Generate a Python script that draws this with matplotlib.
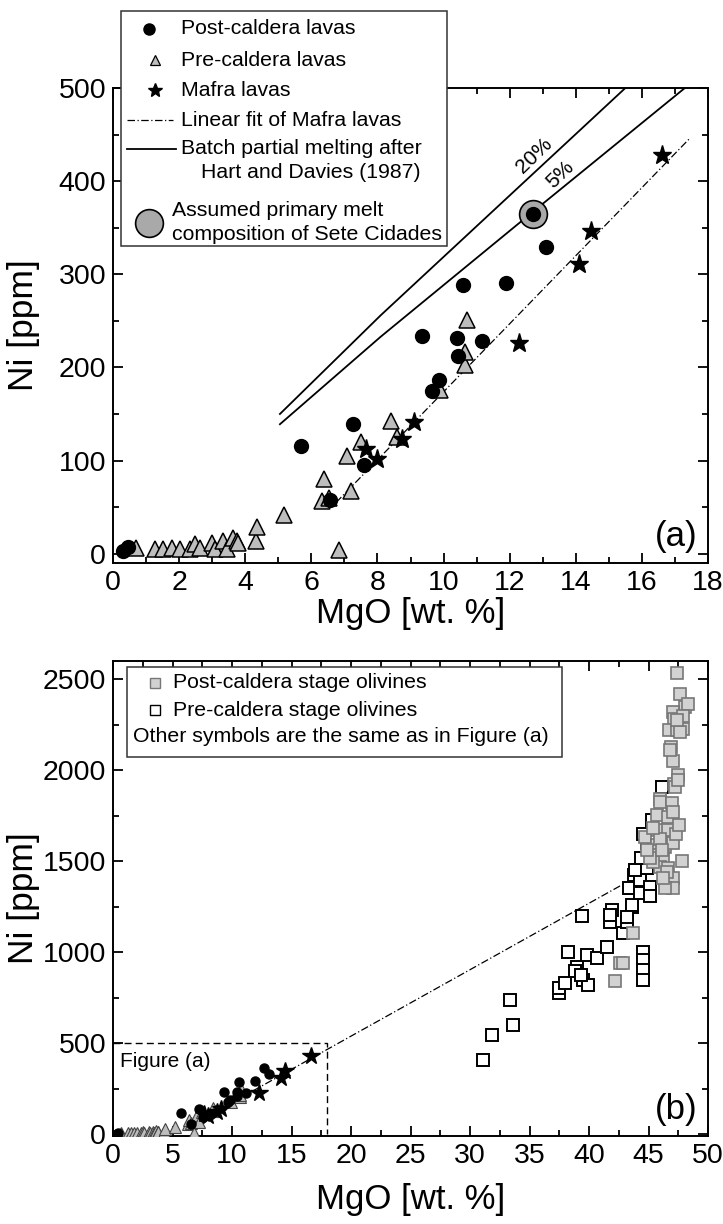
import matplotlib
matplotlib.use("Agg")
import matplotlib.pyplot as plt
from matplotlib.patches import Rectangle
from matplotlib.ticker import MultipleLocator

plt.rcParams['font.family'] = ['Liberation Sans', 'DejaVu Sans']

# whole-rock lavas (MgO wt.%, Ni ppm)
post_mgo = [0.3, 0.45, 5.7, 6.55, 7.25, 7.6, 9.35, 9.65, 9.85, 10.4, 10.45, 10.6, 11.15, 11.9, 12.7, 13.1]
post_ni = [3, 7, 116, 58, 139, 95, 234, 175, 186, 232, 212, 289, 228, 291, 365, 329]

pre_mgo = [0.7, 1.27, 1.52, 1.78, 2.03, 2.33, 2.48, 2.63, 2.99, 3.09, 3.34, 3.44, 3.64, 3.74, 3.79,
           4.32, 4.35, 5.18, 6.31, 6.39, 6.54, 6.84, 7.07, 7.2, 7.49, 8.4, 8.58, 9.89, 10.65, 10.65, 10.72]
pre_ni = [6, 5, 5, 6, 5, 5, 10, 6, 11, 5, 14, 5, 17, 14, 11,
          14, 29, 42, 57, 80, 60, 4, 105, 67, 120, 143, 125, 176, 203, 217, 251]

mafra_mgo = [7.65, 8.0, 8.73, 9.1, 12.28, 14.1, 14.46, 16.62]
mafra_ni = [112, 102, 123, 141, 226, 311, 346, 428]

# linear fit of Mafra lavas (end points)
fit_mgo_a = [6.75, 17.45]
fit_ni_a = [55, 446]
fit_mgo_b = [6.75, 45.1]
fit_ni_b = [55, 1455]

# batch partial melting curves
melt20_mgo = [5.05, 8.1, 15.5]
melt20_ni = [150, 256, 500]
melt5_mgo = [5.05, 8.1, 12.7, 17.3]
melt5_ni = [139, 233, 367, 500]

primary_mgo = [12.7]
primary_ni = [365]

# olivines
ol_post_mgo = [47.42, 47.65, 48.07, 48.35, 47.03, 47.14, 47.92, 46.72, 47.42, 47.92, 46.86, 47.03,
               47.5, 47.14, 45.97, 47.23, 45.97, 46.95, 45.69, 46.67, 47.08, 45.69, 46.67, 44.71,
               45.69, 46.39, 47.08, 45.27, 46.24, 45.97, 46.67, 46.39, 47.08, 47.08, 46.39, 45.4,
               43.67, 42.6, 42.85, 42.18, 46.53, 46.25, 45.13, 47.51, 46.81, 47.65, 47.37, 47.8,
               47.3, 47.6, 46.0, 45.4, 44.9, 46.1]
ol_post_ni = [2535, 2418, 2348, 2366, 2320, 2283, 2296, 2220, 2220, 2225, 2127, 2048,
              1972, 1926, 1844, 1909, 1827, 1818, 1754, 1745, 1772, 1671, 1671, 1634,
              1589, 1580, 1598, 1534, 1525, 1470, 1461, 1397, 1406, 1351, 1351, 1497,
              1104, 940, 940, 839, 1443, 1406, 1516, 1946, 2110, 2210, 2275, 1500,
              1650, 1700, 1620, 1680, 1560, 1560]

ol_pre_mgo = [31.07, 31.82, 33.64, 33.36, 37.5, 37.5, 37.98, 39.52, 39.94, 38.97, 38.26, 39.8,
              40.64, 41.48, 42.88, 41.76, 43.17, 41.91, 43.59, 43.59, 43.78, 39.38, 44.57, 44.57,
              44.57, 44.57, 41.76, 43.65, 43.39, 44.29, 44.29, 43.87, 44.85, 45.13, 45.13, 45.13,
              44.57, 45.27, 46.1, 43.17, 38.82, 39.3, 44.9, 45.5, 44.4]
ol_pre_ni = [405, 546, 601, 738, 775, 805, 830, 848, 821, 921, 1003, 985,
             967, 1031, 1104, 1168, 1168, 1232, 1250, 1351, 1424, 1199, 1003, 958,
             903, 848, 1204, 1260, 1351, 1397, 1324, 1452, 1461, 1360, 1306, 1561,
             1652, 1726, 1909, 1195, 897, 876, 1600, 1620, 1520]

TRI = '#bdbdbd'
SQ = '#d2d2d2'
BIG = '#a9a9a9'

fig = plt.figure(figsize=(7.23, 12.24), dpi=100)


def style_axes(ax, xmaj, xmin, ymaj, ymin, xlab_y):
    ax.xaxis.set_major_locator(MultipleLocator(xmaj))
    ax.xaxis.set_minor_locator(MultipleLocator(xmin))
    ax.yaxis.set_major_locator(MultipleLocator(ymaj))
    ax.yaxis.set_minor_locator(MultipleLocator(ymin))
    ax.tick_params(which='both', direction='in', top=True, right=True, width=1.3)
    ax.tick_params(which='major', length=7, labelsize=20.5, pad=5)
    ax.tick_params(which='minor', length=4)
    for s in ax.spines.values():
        s.set_linewidth(1.4)
    ax.set_xlabel('MgO [wt. %]', fontsize=25)
    ax.set_ylabel('Ni [ppm]', fontsize=25.5)
    ax.xaxis.set_label_coords(0.5, xlab_y)
    ax.yaxis.set_label_coords(-0.122, 0.5)


# ---- (a) lavas ----
ax = fig.add_axes([113 / 723, 1 - 563 / 1224, 595 / 723, 475 / 1224])
ax.plot(melt20_mgo, melt20_ni, color='k', lw=1.3, zorder=2)
ax.plot(melt5_mgo, melt5_ni, color='k', lw=1.3, zorder=2)
ax.plot(fit_mgo_a, fit_ni_a, color='k', lw=0.9, ls=(0, (6, 2, 1, 2)), zorder=2)
ax.plot(primary_mgo, primary_ni, 'o', ms=20, mfc=BIG, mec='k', mew=1.2, zorder=3)
ax.plot(pre_mgo, pre_ni, '^', ms=12, mfc=TRI, mec='k', mew=1.1, ls='none', zorder=4)
ax.plot(post_mgo, post_ni, 'o', ms=10, mfc='k', mec='k', ls='none', zorder=5)
ax.plot(mafra_mgo, mafra_ni, '*', ms=14, mfc='k', mec='k', ls='none', zorder=6)
ax.text(12.73, 427, '20%', rotation=44, fontsize=15, ha='center', va='center')
ax.text(13.52, 407, '5%', rotation=44, fontsize=15, ha='center', va='center')
ax.text(0.947, 0.055, '(a)', transform=ax.transAxes, fontsize=25, ha='center', va='center')
ax.set_xlim(0, 18)
ax.set_ylim(-10, 500)
style_axes(ax, 2, 1, 100, 50, -0.072)

# ---- (b) olivines + lavas ----
bx = fig.add_axes([113 / 723, 1 - 1136 / 1224, 595 / 723, 475 / 1224])
bx.plot(fit_mgo_b, fit_ni_b, color='k', lw=0.9, ls=(0, (6, 2, 1, 2)), zorder=2)
bx.plot([0, 18, 18], [500, 500, 0], color='k', lw=1.0, ls=(0, (5, 3)), zorder=2)
bx.plot(ol_pre_mgo, ol_pre_ni, 's', ms=9, mfc='white', mec='k', mew=1.4, ls='none', zorder=3)
bx.plot(ol_post_mgo, ol_post_ni, 's', ms=9, mfc=SQ, mec='#777777', mew=1.2, ls='none', zorder=4)
bx.plot(pre_mgo, pre_ni, '^', ms=8, mfc=TRI, mec='#444444', mew=0.8, ls='none', zorder=5)
bx.plot(post_mgo, post_ni, 'o', ms=6.5, mfc='k', mec='k', ls='none', zorder=6)
bx.plot(mafra_mgo, mafra_ni, '*', ms=13, mfc='k', mec='k', ls='none', zorder=7)
bx.text(0.6, 400, 'Figure (a)', fontsize=15, ha='left', va='center')
bx.text(0.947, 0.055, '(b)', transform=bx.transAxes, fontsize=25, ha='center', va='center')
bx.set_xlim(0, 50)
bx.set_ylim(-10, 2600)
style_axes(bx, 5, 2.5, 500, 250, -0.1)

# ---- legends, laid out in figure pixels ----
ov = fig.add_axes([0, 0, 1, 1], zorder=10)
ov.set_xlim(0, 723)
ov.set_ylim(1224, 0)
ov.axis('off')
ov.patch.set_alpha(0)

LF = 15.3
ov.add_patch(Rectangle((121, 11), 326, 235, fc='white', ec='#333333', lw=1.1))
ov.plot([149], [29], 'o', ms=8, color='k')
ov.text(181, 29, 'Post-caldera lavas', fontsize=LF, va='center')
ov.plot([155], [60], '^', ms=7, mfc=TRI, mec='k', mew=0.9)
ov.text(181, 60, 'Pre-caldera lavas', fontsize=LF, va='center')
ov.plot([155], [90], '*', ms=10, color='k')
ov.text(181, 90, 'Mafra lavas', fontsize=LF, va='center')
ov.plot([127, 173], [120, 120], color='k', lw=0.9, ls=(0, (6, 2, 1, 2)))
ov.text(181, 120, 'Linear fit of Mafra lavas', fontsize=LF, va='center')
ov.plot([127, 176], [149, 149], color='k', lw=1.3)
ov.text(181, 149, 'Batch partial melting after', fontsize=LF, va='center')
ov.text(201, 173, 'Hart and Davies (1987)', fontsize=LF, va='center')
ov.plot([149], [223], 'o', ms=20, mfc=BIG, mec='k', mew=1.2)
ov.text(172, 210, 'Assumed primary melt', fontsize=LF, va='center')
ov.text(172, 234, 'composition of Sete Cidades', fontsize=LF, va='center')

ov.add_patch(Rectangle((127, 667), 435, 90, fc='white', ec='#333333', lw=1.1))
ov.plot([155], [683], 's', ms=7, mfc=SQ, mec='#777777', mew=1.0)
ov.text(173, 683, 'Post-caldera stage olivines', fontsize=LF, va='center')
ov.plot([155], [710], 's', ms=7, mfc='white', mec='k', mew=1.0)
ov.text(173, 710, 'Pre-caldera stage olivines', fontsize=LF, va='center')
ov.text(133, 736, 'Other symbols are the same as in Figure (a)', fontsize=LF, va='center')

fig.savefig('out.png', dpi=100)
